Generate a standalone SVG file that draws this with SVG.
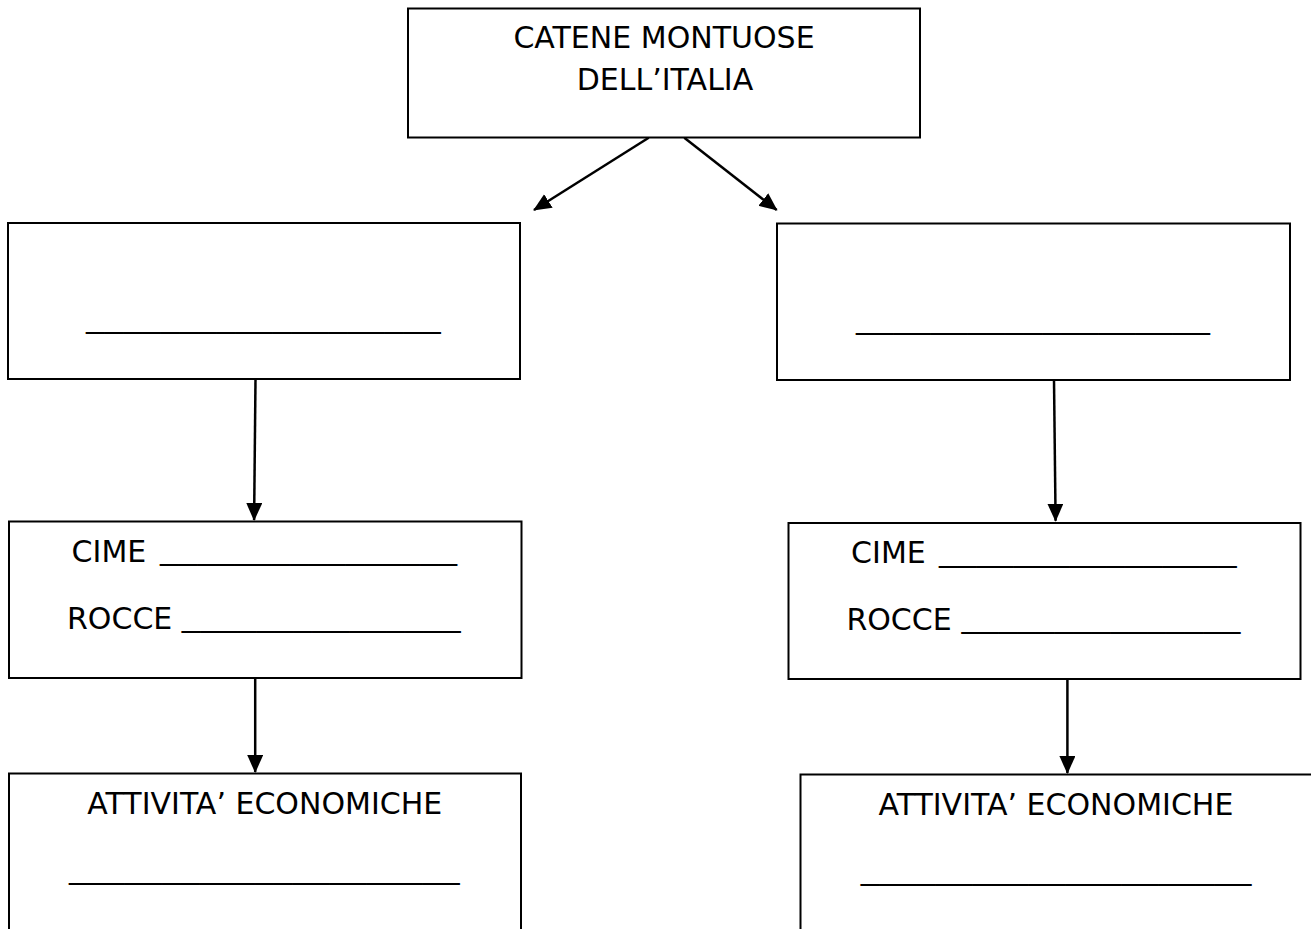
<svg xmlns="http://www.w3.org/2000/svg" width="1311" height="929" viewBox="0 0 1311 929">
<style>
.box{fill:#fff;stroke:#000;stroke-width:2}
.t{font-family:"DejaVu Sans",Verdana,sans-serif;font-size:30px;fill:#000}
.c{text-anchor:middle}
.con{stroke:#000;stroke-width:2.5;fill:none;marker-end:url(#ah)}
</style>
<defs>
<marker id="ah" markerUnits="userSpaceOnUse" markerWidth="19" markerHeight="17" refX="17" refY="8" orient="auto" viewBox="0 0 19 17">
<path d="M0,0 L18,8 L0,16 z" fill="#000"/>
</marker>
</defs>
<rect width="1311" height="929" fill="#fff"/>
<g id="connectors">
<line class="con" x1="648.7" y1="137.7" x2="534" y2="210"/>
<line class="con" x1="684.3" y1="137.7" x2="776.7" y2="210"/>
<line class="con" x1="255.5" y1="379" x2="254.1" y2="520"/>
<line class="con" x1="1054" y1="380" x2="1055.6" y2="520.7"/>
<line class="con" x1="255.2" y1="678" x2="255.2" y2="772"/>
<line class="con" x1="1067.4" y1="679" x2="1067.4" y2="773"/>
</g>
<g id="n-top">
<rect class="box" x="408" y="8.5" width="512" height="129"/>
<text class="t c" x="664" y="48">CATENE MONTUOSE</text>
<text class="t c" x="665" y="90.3">DELL’ITALIA</text>
</g>
<g id="n-left1">
<rect class="box" x="8" y="223" width="512" height="156"/>
<text class="t" x="86.1" y="326.8" textLength="354.7" lengthAdjust="spacingAndGlyphs">___________________</text>
</g>
<g id="n-right1">
<rect class="box" x="777" y="223.5" width="513" height="156.5"/>
<text class="t" x="855.9" y="327.5" textLength="354.1" lengthAdjust="spacingAndGlyphs">___________________</text>
</g>
<g id="n-left2">
<rect class="box" x="9" y="521.5" width="512.5" height="156.5"/>
<text class="t"><tspan x="71.6" y="562">CIME </tspan><tspan x="160" y="559.2" textLength="297" lengthAdjust="spacingAndGlyphs">________________</tspan></text>
<text class="t"><tspan x="67" y="629.2">ROCCE </tspan><tspan x="181.8" y="625.8" textLength="278.9" lengthAdjust="spacingAndGlyphs">_______________</tspan></text>
</g>
<g id="n-right2">
<rect class="box" x="788.5" y="523" width="512" height="156"/>
<text class="t"><tspan x="851.1" y="563">CIME </tspan><tspan x="939" y="560.5" textLength="297.5" lengthAdjust="spacingAndGlyphs">________________</tspan></text>
<text class="t"><tspan x="846.4" y="629.5">ROCCE </tspan><tspan x="961.5" y="626.8" textLength="278.8" lengthAdjust="spacingAndGlyphs">_______________</tspan></text>
</g>
<g id="n-left3">
<rect class="box" x="9" y="773.5" width="512" height="175"/>
<text class="t c" x="264.8" y="813.5">ATTIVITA’ ECONOMICHE</text>
<text class="t" x="68.9" y="877.5" textLength="390.8" lengthAdjust="spacingAndGlyphs">_____________________</text>
</g>
<g id="n-right3">
<rect class="box" x="800.5" y="774.5" width="513" height="175"/>
<text class="t c" x="1055.9" y="814.5">ATTIVITA’ ECONOMICHE</text>
<text class="t" x="860.8" y="879.2" textLength="390.6" lengthAdjust="spacingAndGlyphs">_____________________</text>
</g>
</svg>
